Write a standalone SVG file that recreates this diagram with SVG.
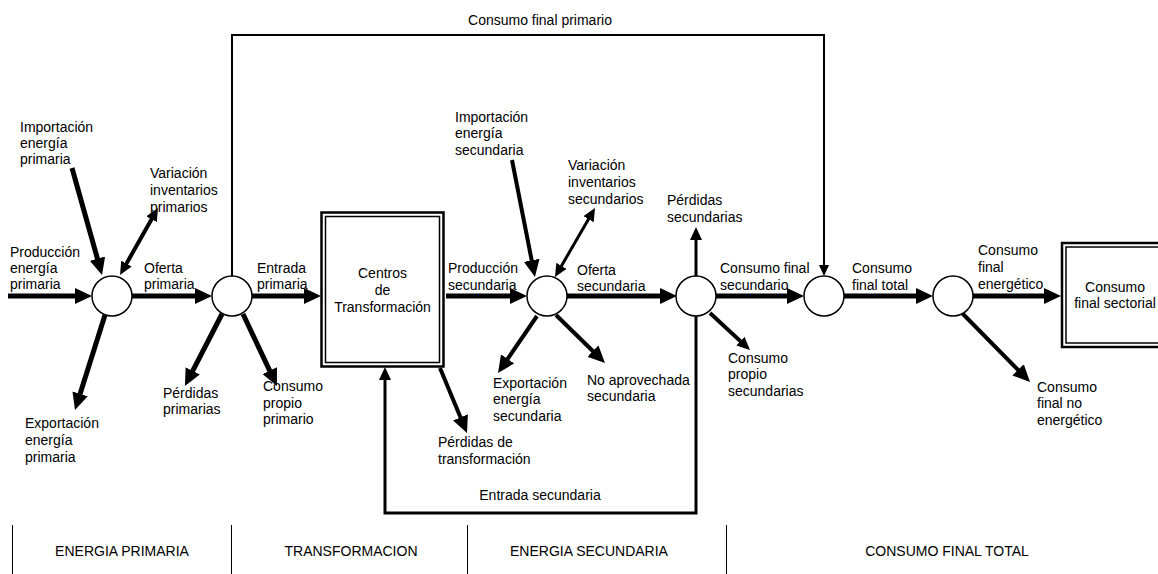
<svg xmlns="http://www.w3.org/2000/svg" width="1158" height="574" viewBox="0 0 1158 574">
<style>
.lbl{font-family:"Liberation Sans",Arial,sans-serif;font-size:14px;fill:#000}
.mid{text-anchor:middle}
.sec{font-family:"Liberation Sans",Arial,sans-serif;font-size:14px;fill:#000;text-anchor:middle}
.node{fill:#fff;stroke:#000;stroke-width:1.5}
.box{fill:#fff;stroke:#000}
.w5{stroke:#000;stroke-width:5;fill:none}
.w4{stroke:#000;stroke-width:4;fill:none}
.w3{stroke:#000;stroke-width:3;fill:none}
.w2{stroke:#000;stroke-width:2;fill:none}
.sep{stroke:#000;stroke-width:1}
</style>
<defs>
<marker id="ab" markerUnits="userSpaceOnUse" markerWidth="17" markerHeight="16" refX="11" refY="8" orient="auto"><path d="M0,0 L17,8 L0,16 Z" fill="#000"/></marker>
<marker id="am" markerUnits="userSpaceOnUse" markerWidth="13" markerHeight="12" refX="8" refY="6" orient="auto-start-reverse"><path d="M0,0 L13,6 L0,12 Z" fill="#000"/></marker>
<marker id="at" markerUnits="userSpaceOnUse" markerWidth="11" markerHeight="10" refX="8" refY="5" orient="auto"><path d="M0,0 L11,5 L0,10 Z" fill="#000"/></marker>
</defs>
<rect width="1158" height="574" fill="#fff"/>

<g id="connectors">
<line class="w5" x1="8" y1="296" x2="86" y2="296" marker-end="url(#ab)"/>
<line class="w5" x1="132" y1="296" x2="206" y2="296" marker-end="url(#ab)"/>
<line class="w5" x1="252" y1="296" x2="315" y2="296" marker-end="url(#ab)"/>
<line class="w5" x1="446" y1="296" x2="521" y2="296" marker-end="url(#ab)"/>
<line class="w5" x1="567" y1="296" x2="671" y2="296" marker-end="url(#ab)"/>
<line class="w5" x1="716" y1="296" x2="798" y2="296" marker-end="url(#ab)"/>
<line class="w5" x1="844" y1="296" x2="927" y2="296" marker-end="url(#ab)"/>
<line class="w5" x1="973" y1="296" x2="1055" y2="296" marker-end="url(#ab)"/>
<line class="w5" x1="72" y1="168" x2="100.4" y2="269.2" marker-end="url(#ab)"/>
<line class="w4" x1="122.5" y1="270.6" x2="155.5" y2="212.3" marker-start="url(#am)" marker-end="url(#am)"/>
<line class="w5" x1="105" y1="315" x2="76.8" y2="404.3" marker-end="url(#ab)"/>
<line class="w5" x1="222" y1="314" x2="187.7" y2="380.7" marker-end="url(#ab)"/>
<line class="w5" x1="243" y1="314" x2="274.4" y2="380.6" marker-end="url(#ab)"/>
<line class="w4" x1="512" y1="160" x2="533.8" y2="271.1" marker-end="url(#ab)"/>
<line class="w3" x1="557.5" y1="272.7" x2="592.5" y2="212.3" marker-start="url(#am)" marker-end="url(#am)"/>
<line class="w4" x1="537" y1="316" x2="501.4" y2="368" marker-end="url(#ab)"/>
<line class="w4" x1="556" y1="315" x2="600.7" y2="358.8" marker-end="url(#ab)"/>
<line class="w4" x1="440" y1="368" x2="464.7" y2="427.5" marker-end="url(#ab)"/>
<line class="w3" x1="696" y1="276" x2="696" y2="232" marker-end="url(#am)"/>
<line class="w4" x1="710" y1="313" x2="746.3" y2="346.6" marker-end="url(#am)"/>
<line class="w4" x1="962" y1="313" x2="1025.8" y2="377.7" marker-end="url(#ab)"/>
<path class="w2" d="M232,276 V35 H824 V273" marker-end="url(#at)"/>
<path class="w3" d="M696,316 V513 H385 V372" marker-end="url(#am)"/>
<text class="lbl" x="144" y="273">Oferta</text>
<text class="lbl" x="144" y="289">primaria</text>
<text class="lbl" x="257" y="273">Entrada</text>
<text class="lbl" x="257" y="289">primaria</text>
<text class="lbl mid" x="540" y="25">Consumo final primario</text>
<text class="lbl" x="448" y="273">Producción</text>
<text class="lbl" x="448" y="290">secundaria</text>
<text class="lbl" x="577" y="275">Oferta</text>
<text class="lbl" x="577" y="291">secundaria</text>
<text class="lbl" x="720" y="273">Consumo final</text>
<text class="lbl" x="720" y="290">secundario</text>
<text class="lbl" x="852" y="273">Consumo</text>
<text class="lbl" x="852" y="290">final total</text>
<text class="lbl" x="978" y="255">Consumo</text>
<text class="lbl" x="978" y="272">final</text>
<text class="lbl" x="978" y="289">energético</text>
<text class="lbl mid" x="540" y="500">Entrada secundaria</text>
</g>

<g id="c1"><circle class="node" cx="112" cy="296" r="20"/></g>
<g id="c2"><circle class="node" cx="232" cy="296" r="20"/></g>
<g id="c3"><circle class="node" cx="547" cy="296" r="20"/></g>
<g id="c4"><circle class="node" cx="696" cy="296" r="20"/></g>
<g id="c5"><circle class="node" cx="824" cy="296" r="20"/></g>
<g id="c6"><circle class="node" cx="953" cy="296" r="20"/></g>

<g id="centros">
<rect class="box" x="321.5" y="212.5" width="122" height="154" stroke-width="2.5"/>
<rect class="box" x="325.5" y="216.5" width="114" height="146" stroke-width="1.5"/>
<text class="lbl mid" x="382.5" y="278">Centros</text>
<text class="lbl mid" x="382.5" y="295">de</text>
<text class="lbl mid" x="382.5" y="312">Transformación</text>
</g>
<g id="sectorial">
<rect class="box" x="1062" y="243" width="110" height="104" stroke-width="2.5"/>
<rect class="box" x="1066" y="247" width="102" height="96" stroke-width="1.5"/>
<text class="lbl mid" x="1115" y="292">Consumo</text>
<text class="lbl mid" x="1115" y="308">final sectorial</text>
</g>

<g id="produccion-primaria"><text class="lbl" x="10" y="257">Producción</text><text class="lbl" x="10" y="273">energía</text><text class="lbl" x="10" y="289">primaria</text></g>
<g id="importacion-primaria"><text class="lbl" x="20" y="132">Importación</text><text class="lbl" x="20" y="148">energía</text><text class="lbl" x="20" y="164">primaria</text></g>
<g id="variacion-primarios"><text class="lbl" x="150" y="178">Variación</text><text class="lbl" x="150" y="195">inventarios</text><text class="lbl" x="150" y="212">primarios</text></g>
<g id="exportacion-primaria"><text class="lbl" x="25" y="428">Exportación</text><text class="lbl" x="25" y="445">energía</text><text class="lbl" x="25" y="462">primaria</text></g>
<g id="perdidas-primarias"><text class="lbl" x="163" y="398">Pérdidas</text><text class="lbl" x="163" y="414">primarias</text></g>
<g id="consumo-propio-primario"><text class="lbl" x="263" y="391">Consumo</text><text class="lbl" x="263" y="408">propio</text><text class="lbl" x="263" y="424">primario</text></g>
<g id="importacion-secundaria"><text class="lbl" x="455" y="122">Importación</text><text class="lbl" x="455" y="138">energía</text><text class="lbl" x="455" y="155">secundaria</text></g>
<g id="variacion-secundarios"><text class="lbl" x="568" y="170">Variación</text><text class="lbl" x="568" y="187">inventarios</text><text class="lbl" x="568" y="204">secundarios</text></g>
<g id="exportacion-secundaria"><text class="lbl" x="493" y="388">Exportación</text><text class="lbl" x="493" y="404">energía</text><text class="lbl" x="493" y="421">secundaria</text></g>
<g id="no-aprovechada"><text class="lbl" x="587" y="385">No aprovechada</text><text class="lbl" x="587" y="401">secundaria</text></g>
<g id="perdidas-transformacion"><text class="lbl" x="438" y="447">Pérdidas de</text><text class="lbl" x="438" y="464">transformación</text></g>
<g id="perdidas-secundarias"><text class="lbl" x="667" y="205">Pérdidas</text><text class="lbl" x="667" y="222">secundarias</text></g>
<g id="consumo-propio-secundarias"><text class="lbl" x="728" y="363">Consumo</text><text class="lbl" x="728" y="379">propio</text><text class="lbl" x="728" y="396">secundarias</text></g>
<g id="consumo-no-energetico"><text class="lbl" x="1037" y="392">Consumo</text><text class="lbl" x="1037" y="408">final no</text><text class="lbl" x="1037" y="425">energético</text></g>

<g id="sections">
<line class="sep" x1="12.5" y1="525" x2="12.5" y2="574"/>
<line class="sep" x1="231.5" y1="525" x2="231.5" y2="574"/>
<line class="sep" x1="467.5" y1="525" x2="467.5" y2="574"/>
<line class="sep" x1="726.5" y1="525" x2="726.5" y2="574"/>
<text class="sec" x="122" y="556">ENERGIA PRIMARIA</text>
<text class="sec" x="351" y="556">TRANSFORMACION</text>
<text class="sec" x="589" y="556">ENERGIA SECUNDARIA</text>
<text class="sec" x="947" y="556">CONSUMO FINAL TOTAL</text>
</g>
</svg>
